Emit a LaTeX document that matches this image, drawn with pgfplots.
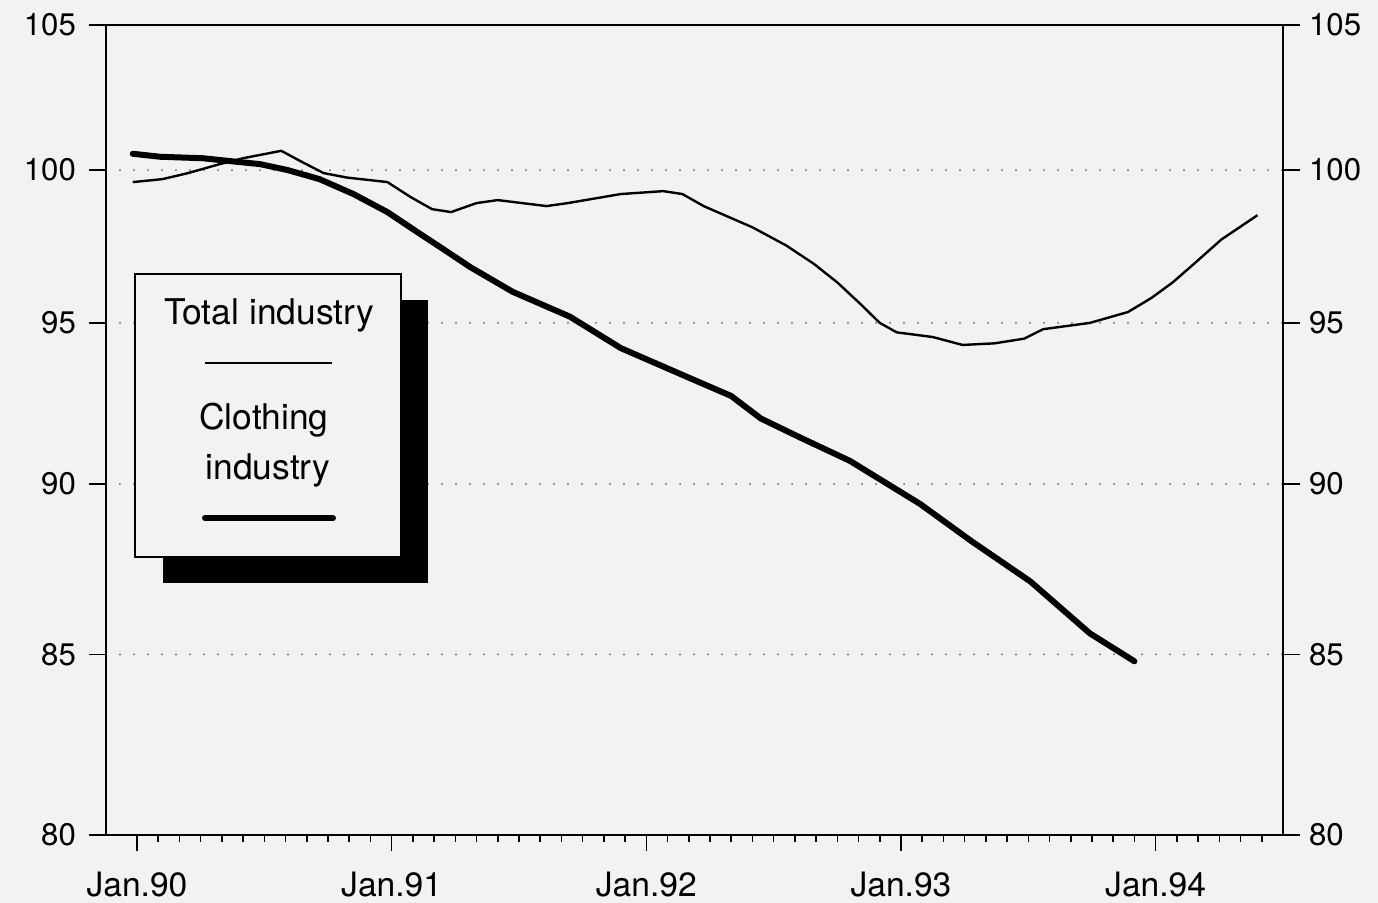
\documentclass[border=0pt]{standalone}
\usepackage{pgfplots}
\pgfplotsset{compat=1.18}
\usepackage{fontspec}
\setmainfont{TeX Gyre Heros}
\definecolor{bgc}{HTML}{F2F2F2}
\begin{document}
\begin{tikzpicture}
\useasboundingbox (-53pt,-34pt) rectangle (636pt,417.5pt);
\fill[bgc] (-53pt,-34pt) rectangle (636pt,417.5pt);
\begin{axis}[
  scale only axis, width=588.5pt, height=405pt,
  xmin=-1.46, xmax=54.0,
  ymode=log, ymin=80, ymax=105,
  axis line style={line width=0.9pt},
  tick style={black, line width=0.8pt},
  tick align=outside,
  major tick length=8.5pt, minor tick length=3.5pt,
  xtick={0,12,24,36,48},
  xticklabels={Jan.90,Jan.91,Jan.92,Jan.93,Jan.94},
  minor xtick={1,2,...,53},
  xtick pos=bottom,
  xticklabel style={font=\fontsize{16.8}{19}\selectfont, anchor=base, yshift=-22.3pt},
  ytick={80,85,90,95,100,105},
  yticklabels={80,85,90,95,100,105},
  ytick pos=left,
  yticklabel style={font=\fontsize{15.6}{18}\selectfont, xshift=-3pt},
  ymajorgrids,
  grid style={black!60, line width=1pt, dash pattern=on 0pt off 7pt, line cap=round},
]
\addplot[black, line width=1.2pt, line join=round] coordinates {
(-0.2,99.6) (1.2,99.7) (2.4,99.9) (3.9,100.2) (5.0,100.4) (6.8,100.65)
(7.7,100.3) (8.8,99.9) (9.9,99.75) (11.8,99.6) (12.9,99.1) (13.9,98.7)
(14.8,98.6) (16.0,98.9) (17.0,99.0) (19.3,98.8) (20.3,98.9) (22.8,99.2)
(24.8,99.3) (25.7,99.2) (26.7,98.8) (29.0,98.1) (30.6,97.5) (31.9,96.9)
(33.0,96.3) (34.1,95.6) (35.0,95.0) (35.8,94.7) (37.5,94.55) (38.9,94.3)
(40.4,94.35) (41.8,94.5) (42.7,94.8) (44.9,95.0) (46.7,95.35) (47.8,95.8)
(48.8,96.3) (49.8,96.9) (51.1,97.7) (52.8,98.5)
};
\addplot[black, line width=3pt, line join=round, line cap=round] coordinates {
(-0.2,100.55) (1.1,100.45) (3.1,100.4) (4.4,100.3) (5.8,100.2) (7.1,100.0)
(8.6,99.7) (10.2,99.2) (11.8,98.6) (13.3,97.9) (14.4,97.4) (15.7,96.8)
(17.7,96.0) (20.4,95.2) (22.8,94.2) (25.9,93.3) (28.0,92.7) (29.4,92.0)
(31.3,91.4) (33.6,90.7) (36.9,89.4) (39.3,88.3) (42.1,87.1) (44.9,85.6)
(47.0,84.8)
};
\end{axis}
\begin{axis}[
  scale only axis, width=588.5pt, height=405pt,
  xmin=-1.46, xmax=54.0,
  ymode=log, ymin=80, ymax=105,
  axis x line=none, axis y line*=right,
  axis line style={line width=0.9pt},
  tick style={black, line width=0.8pt},
  tick align=outside,
  major tick length=8.5pt,
  ytick={80,85,90,95,100,105},
  yticklabels={80,85,90,95,100,105},
  yticklabel style={font=\fontsize{15.6}{18}\selectfont, xshift=1pt},
]
\end{axis}
% legend
\fill[black] (28.5pt,126pt) rectangle (161pt,267.5pt);
\draw[line width=0.8pt, fill=bgc] (14.5pt,139pt) rectangle (147.5pt,280.5pt);
\node[font=\fontsize{17.7}{20}\selectfont] at (81.5pt,260pt) {Total industry};
\draw[line width=1.2pt] (49.5pt,236pt) -- (113pt,236pt);
\node[font=\fontsize{17.7}{20}\selectfont] at (79pt,207.5pt) {Clothing};
\node[font=\fontsize{17.7}{20}\selectfont] at (81pt,182.5pt) {industry};
\draw[line width=3pt, line cap=round] (49.5pt,158.5pt) -- (113.5pt,158.5pt);
\end{tikzpicture}
\end{document}
